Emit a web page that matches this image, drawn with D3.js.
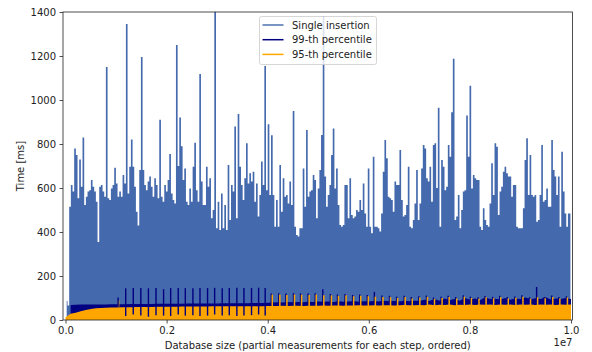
<!DOCTYPE html>
<html>
<head>
<meta charset="utf-8">
<script src="https://cdn.jsdelivr.net/npm/d3@7"></script>
<style>
  body { margin: 0; background: #fff; }
  svg { display: block; font-family: "DejaVu Sans", sans-serif; }
</style>
</head>
<body>
<div id="chart"></div>
<script>
// database sizes are in units of 1e7 (the axis shows the "1e7" offset)
const insertStart = 0.0023;
const insertStep = 0.0033;
const insertMs = [
  86, 66, 515, 614, 584, 780, 750, 553, 730, 606, 830, 523, 560, 584, 590, 636, 606, 584, 538, 355,
  606, 614, 584, 560, 1150, 553, 545, 598, 614, 692, 621, 560, 584, 560, 659, 621, 1345, 575, 697, 820,
  697, 606, 492, 430, 682, 1195, 682, 614, 590, 629, 652, 606, 560, 644, 614, 553, 910, 560, 538, 614,
  584, 636, 755, 575, 545, 530, 1250, 700, 920, 790, 636, 689, 538, 523, 598, 538, 697, 806, 590, 538,
  1118, 629, 523, 523, 697, 606, 644, 462, 500, 1430, 417, 538, 409, 575, 417, 523, 409, 704, 455, 614,
  584, 880, 462, 936, 697, 614, 545, 644, 803, 621, 667, 629, 674, 538, 621, 470, 568, 720, 614, 1155,
  590, 890, 568, 840, 568, 424, 545, 424, 704, 492, 644, 560, 568, 530, 629, 523, 950, 424, 386, 379,
  417, 417, 689, 515, 864, 560, 584, 590, 659, 636, 462, 598, 682, 841, 1382, 652, 515, 568, 614, 750,
  870, 598, 689, 523, 432, 424, 432, 614, 614, 462, 644, 477, 462, 470, 500, 492, 545, 500, 621, 484,
  424, 689, 424, 394, 742, 424, 424, 417, 402, 484, 674, 818, 735, 560, 553, 545, 492, 629, 614, 614,
  773, 545, 470, 477, 523, 697, 424, 417, 455, 530, 682, 455, 530, 689, 795, 780, 644, 629, 697, 538,
  795, 803, 600, 965, 424, 727, 697, 590, 606, 795, 742, 944, 1188, 455, 470, 568, 417, 500, 584, 590,
  930, 742, 1065, 598, 659, 644, 636, 636, 424, 409, 508, 455, 432, 424, 530, 712, 568, 803, 788, 477,
  584, 606, 674, 697, 667, 652, 652, 560, 614, 614, 424, 417, 417, 417, 508, 727, 826, 568, 750, 568,
  560, 568, 447, 455, 568, 795, 538, 545, 598, 515, 515, 818, 682, 652, 568, 652, 424, 765, 584, 484,
  424, 484, 484
];

// 99-th percentile base level, sampled every 0.01 from 0.01
const p99Start = 0.01;
const p99Ms = [
  68, 69, 70, 70, 70, 71, 71, 71, 72, 72,
  72, 72, 73, 73, 73, 73, 73, 74, 74, 74,
  74, 74, 74, 75, 75, 75, 75, 75, 75, 75,
  76, 76, 76, 76, 76, 76, 77, 77, 77, 78,
  80, 81, 80, 82, 81, 82, 81, 83, 82, 84,
  83, 84, 82, 85, 83, 84, 86, 83, 85, 84,
  86, 84, 87, 85, 86, 84, 88, 85, 87, 86,
  92, 86, 95, 88, 98, 90, 96, 88, 100, 92,
  98, 90, 102, 95, 97, 93, 100, 92, 98, 95,
  102, 94, 99, 96, 103, 93, 98, 95, 100, 96
];

// 95-th percentile base level, sampled every 0.01 from 0.00
const p95Start = 0.0;
const p95Ms = [
  12, 28, 33, 40, 45, 50, 53, 55, 56, 57,
  57, 58, 58, 58, 59, 59, 59, 59, 60, 60,
  60, 60, 60, 61, 61, 61, 61, 61, 61, 62,
  62, 62, 62, 62, 62, 63, 63, 63, 63, 63,
  64, 64, 64, 65, 64, 65, 65, 64, 65, 65,
  65, 66, 65, 66, 66, 65, 66, 66, 67, 66,
  66, 67, 66, 67, 67, 66, 67, 68, 67, 67,
  68, 67, 70, 67, 69, 68, 70, 67, 69, 68,
  70, 68, 71, 69, 70, 68, 71, 69, 70, 68,
  71, 69, 70, 68, 71, 69, 70, 68, 71, 69, 70
];
const levelStep = 0.01;

// step boundaries before 0.4: the 99-th percentile jumps up and down
const stepSizesEarly = [0.104, 0.119, 0.134, 0.149, 0.164, 0.179, 0.194, 0.208, 0.223, 0.237, 0.252,
  0.266, 0.281, 0.295, 0.310, 0.324, 0.339, 0.353, 0.368, 0.382, 0.395];
const p99EarlyHigh = [102, 144, 145, 146, 144, 145, 140, 145, 146, 145, 144, 146, 145, 146, 144, 146,
  147, 145, 146, 147, 145];
const p99EarlyLow = [60, 18, 25, 20, 15, 22, 20, 18, 25, 20, 22, 18, 20, 25, 20, 22, 18, 20, 22, 25, 20];

// step boundaries after 0.4: both percentiles peak
const stepSizesLate = [0.105, 0.409, 0.424, 0.438, 0.453, 0.467, 0.482, 0.496, 0.511, 0.526, 0.540,
  0.555, 0.570, 0.584, 0.599, 0.613, 0.628, 0.643, 0.657, 0.672, 0.686, 0.701, 0.716, 0.730, 0.745,
  0.759, 0.774, 0.789, 0.803, 0.818, 0.832, 0.847, 0.861, 0.876, 0.891, 0.905, 0.920, 0.934, 0.949,
  0.964, 0.978, 0.993];
const p95LateHigh = [88, 115, 116, 114, 116, 115, 114, 116, 113, 112, 110, 112, 108, 110, 108, 106, 105,
  104, 100, 104, 98, 102, 105, 96, 100, 104, 98, 106, 100, 97, 103, 99, 104, 98, 101, 106, 97, 103, 99,
  105, 98, 102];
const p99LateHigh = [0, 121, 122, 120, 122, 121, 120, 122, 140, 118, 116, 118, 114, 116, 114, 128, 111,
  110, 106, 110, 104, 108, 111, 102, 106, 110, 104, 112, 106, 103, 109, 105, 110, 104, 107, 112, 103,
  150, 105, 111, 104, 108];

const xTicks = [0, 0.2, 0.4, 0.6, 0.8, 1.0];
const yTicks = [0, 200, 400, 600, 800, 1000, 1200, 1400];
const seriesNames = ["Single insertion", "99-th percentile", "95-th percentile"];
const seriesColors = ["#4c72b0", "#000080", "#ffa500"];

const width = 592, height = 352;
const plot = { left: 63, right: 572.5, top: 12, bottom: 320 };

const x = d3.scaleLinear().domain([-0.005, 1.003]).range([plot.left, plot.right]);
const y = d3.scaleLinear().domain([0, 1400]).range([plot.bottom, plot.top]);

const svg = d3.select("#chart").append("svg")
  .attr("width", width)
  .attr("height", height);

svg.append("clipPath").attr("id", "clip")
  .append("rect")
  .attr("x", plot.left).attr("y", plot.top)
  .attr("width", plot.right - plot.left).attr("height", plot.bottom - plot.top);

const g = svg.append("g").attr("clip-path", "url(#clip)");

// single insertions
g.append("path")
  .datum(insertMs)
  .attr("fill", "#4469ad")
  .attr("stroke", "none")
  .attr("d", d3.area()
    .curve(d3.curveStep)
    .x((d, i) => x(insertStart + i * insertStep))
    .y0(y(0))
    .y1(d => y(d)));

// 99-th percentile level
g.append("path")
  .datum(p99Ms)
  .attr("fill", seriesColors[1])
  .attr("d", d3.area()
    .x((d, i) => x(p99Start + i * levelStep))
    .y0(y(0))
    .y1(d => y(d)));

// 99-th percentile peaks after 0.4 (mostly hidden under the orange peaks)
g.append("g")
  .selectAll("line")
  .data(stepSizesLate.map((s, i) => [s - 0.002, p99LateHigh[i]]).filter(d => d[1] > 0))
  .join("line")
  .attr("x1", d => x(d[0])).attr("x2", d => x(d[0]))
  .attr("y1", y(70)).attr("y2", d => y(d[1]))
  .attr("stroke", seriesColors[1])
  .attr("stroke-width", 1.4);

// 95-th percentile level
g.append("path")
  .datum(p95Ms)
  .attr("fill", seriesColors[2])
  .attr("d", d3.area()
    .x((d, i) => x(p95Start + i * levelStep))
    .y0(y(0))
    .y1(d => y(d)));

g.append("g")
  .selectAll("line")
  .data(stepSizesLate.map((s, i) => [s, p95LateHigh[i]]))
  .join("line")
  .attr("x1", d => x(d[0])).attr("x2", d => x(d[0]))
  .attr("y1", y(60)).attr("y2", d => y(d[1]))
  .attr("stroke", seriesColors[2])
  .attr("stroke-width", 1.5);

// 99-th percentile jumps before 0.4
g.append("g")
  .selectAll("line")
  .data(stepSizesEarly.map((s, i) => [s, p99EarlyLow[i], p99EarlyHigh[i]]))
  .join("line")
  .attr("x1", d => x(d[0])).attr("x2", d => x(d[0]))
  .attr("y1", d => y(d[1])).attr("y2", d => y(d[2]))
  .attr("stroke", seriesColors[1])
  .attr("stroke-width", 1.4);

// axes
const xAxis = svg.append("g")
  .attr("transform", `translate(0,${plot.bottom})`)
  .call(d3.axisBottom(x).tickValues(xTicks).tickFormat(d3.format(".1f")).tickSize(3.5).tickPadding(3.5));
const yAxis = svg.append("g")
  .attr("transform", `translate(${plot.left},0)`)
  .call(d3.axisLeft(y).tickValues(yTicks).tickSize(3.5).tickPadding(3.5).tickFormat(d3.format("d")));

[xAxis, yAxis].forEach(a => {
  a.select(".domain").remove();
  a.selectAll(".tick line").attr("stroke", "#222").attr("stroke-width", 0.8);
  a.selectAll(".tick text")
    .attr("fill", "#222")
    .style("font-size", "10px")
    .style("font-family", "'DejaVu Sans', sans-serif");
});

// frame
svg.append("rect")
  .attr("x", plot.left).attr("y", plot.top)
  .attr("width", plot.right - plot.left).attr("height", plot.bottom - plot.top)
  .attr("fill", "none")
  .attr("stroke", "#222")
  .attr("stroke-width", 0.8);

svg.append("text")
  .attr("x", (plot.left + plot.right) / 2)
  .attr("y", 349)
  .attr("text-anchor", "middle")
  .attr("fill", "#222")
  .style("font-size", "10px")
  .text("Database size (partial measurements for each step, ordered)");

svg.append("text")
  .attr("x", plot.right)
  .attr("y", 346)
  .attr("text-anchor", "end")
  .attr("fill", "#222")
  .style("font-size", "10px")
  .text("1e7");

svg.append("text")
  .attr("transform", `translate(24,${(plot.top + plot.bottom) / 2}) rotate(-90)`)
  .attr("text-anchor", "middle")
  .attr("fill", "#222")
  .style("font-size", "10px")
  .text("Time [ms]");

// legend
const legend = svg.append("g").attr("transform", "translate(259.5,16.5)");
legend.append("rect")
  .attr("width", 117).attr("height", 48)
  .attr("rx", 2)
  .attr("fill", "#fff").attr("fill-opacity", 0.8)
  .attr("stroke", "#ccc").attr("stroke-width", 0.8);

const item = legend.selectAll("g.item")
  .data(seriesNames)
  .join("g")
  .attr("class", "item")
  .attr("transform", (d, i) => `translate(0,${8.5 + i * 14.7})`);
item.append("line")
  .attr("x1", 3).attr("x2", 24)
  .attr("stroke", (d, i) => seriesColors[i])
  .attr("stroke-width", 1.5);
item.append("text")
  .attr("x", 32.5)
  .attr("dy", "0.35em")
  .attr("fill", "#222")
  .style("font-size", "10px")
  .text(d => d);
</script>
</body>
</html>
